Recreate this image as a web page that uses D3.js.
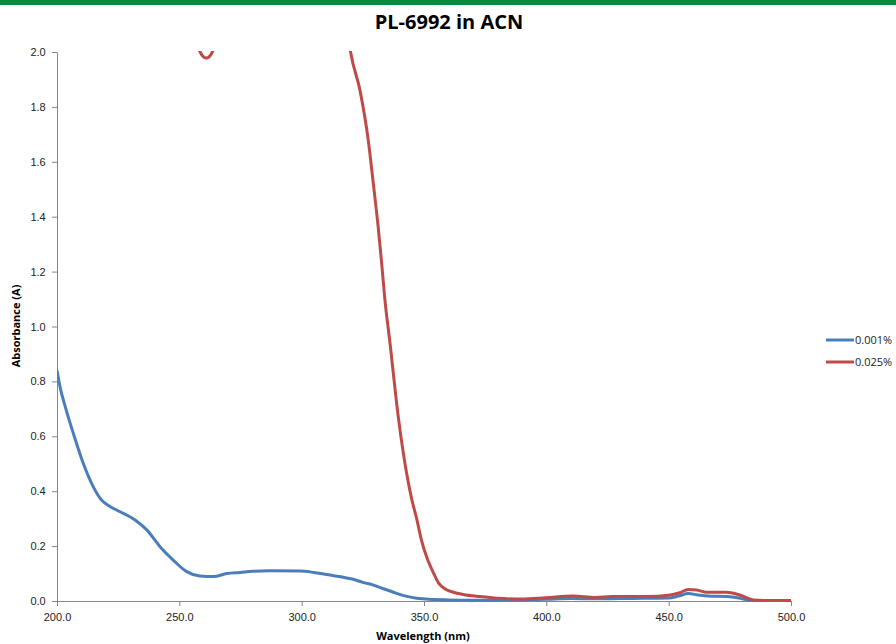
<!DOCTYPE html>
<html>
<head>
<meta charset="utf-8">
<script src="https://cdn.jsdelivr.net/npm/d3@7"></script>
<style>
  body { margin: 0; background: #fff; }
  svg { display: block; font-family: "Open Sans", "Liberation Sans", sans-serif; }
</style>
</head>
<body>
<svg id="chart" width="896" height="644"></svg>
<script>
// 0.001% sample
const blueWl = [200, 201.5, 203.3, 206.7, 210.8, 214.9, 218, 221, 225.8, 231.9, 236.7, 242.1, 247.5, 253, 258.4, 263.9, 269.4, 274.8, 280, 287, 299.3, 305, 311.6, 316, 321.1, 325, 329.3, 333, 337.5, 343, 347, 352, 360, 370, 380, 390, 400, 410, 420, 430, 440, 450, 454, 458, 462, 466, 474, 478, 481, 484, 490, 500];
const blueAbs = [0.84, 0.77, 0.71, 0.61, 0.50, 0.415, 0.37, 0.348, 0.325, 0.295, 0.259, 0.198, 0.149, 0.107, 0.091, 0.089, 0.10, 0.104, 0.108, 0.11, 0.109, 0.104, 0.095, 0.088, 0.079, 0.068, 0.058, 0.046, 0.032, 0.017, 0.01, 0.006, 0.004, 0.003, 0.003, 0.004, 0.006, 0.009, 0.008, 0.009, 0.01, 0.011, 0.018, 0.027, 0.022, 0.018, 0.016, 0.012, 0.006, 0.001, 0, 0];

// 0.025% sample (goes off scale above 2.0)
const redWl = [200, 250, 256, 258.5, 261, 263.5, 266, 280, 300, 315, 320, 323.8, 327.2, 329.3, 331.3, 332.7, 334, 336.1, 339.5, 342.9, 345, 347, 349, 351.5, 354, 356, 359, 362, 366, 373, 380, 390, 400, 411, 420, 427, 441, 450, 454.5, 458, 461.5, 465.5, 473.5, 479, 484.5, 490, 500];
const redAbs = [3.0, 2.6, 2.08, 2.0, 1.978, 2.0, 2.08, 2.7, 2.8, 2.4, 2.0, 1.862, 1.68, 1.52, 1.36, 1.23, 1.10, 0.94, 0.67, 0.465, 0.37, 0.30, 0.22, 0.15, 0.10, 0.065, 0.042, 0.032, 0.024, 0.016, 0.01, 0.007, 0.012, 0.018, 0.013, 0.016, 0.016, 0.021, 0.03, 0.042, 0.04, 0.032, 0.032, 0.022, 0.004, 0.002, 0.002];

const seriesNames = ["0.001%", "0.025%"];
const seriesColors = ["#4a7ebb", "#be4b48"];
const xTicks = [200, 250, 300, 350, 400, 450, 500];
const yTicks = [0, 0.2, 0.4, 0.6, 0.8, 1.0, 1.2, 1.4, 1.6, 1.8, 2.0];

const width = 896, height = 644;
const margin = {top: 52, right: 105, bottom: 43, left: 57};

const svg = d3.select("#chart");

// green strip along the top
svg.append("rect")
    .attr("x", 0).attr("y", 0)
    .attr("width", width).attr("height", 5)
    .attr("fill", "#0b8a3e");

let x = d3.scaleLinear()
    .domain([200, 500])
    .range([margin.left, width - margin.right]);

let y = d3.scaleLinear()
    .domain([0, 2])
    .range([height - margin.bottom, margin.top]);

svg.append("text")
    .attr("x", 449).attr("y", 29)
    .attr("text-anchor", "middle")
    .attr("font-size", 20).attr("font-weight", "bold")
    .attr("fill", "#000")
    .text("PL-6992 in ACN");

let xAxis = g => g
    .attr("transform", `translate(0,${height - margin.bottom})`)
    .call(d3.axisBottom(x).tickValues(xTicks).tickFormat(d3.format(".1f")).tickSize(5).tickSizeOuter(0))
    .call(g => g.selectAll("line, path").attr("stroke", "#868686"))
    .call(g => g.selectAll("text").attr("font-size", 11).attr("fill", "#222").attr("dy", "1.1em"));

let yAxis = g => g
    .attr("transform", `translate(${margin.left},0)`)
    .call(d3.axisLeft(y).tickValues(yTicks).tickFormat(d3.format(".1f")).tickSize(5).tickSizeOuter(0))
    .call(g => g.selectAll("line, path").attr("stroke", "#868686"))
    .call(g => g.selectAll("text").attr("font-size", 11).attr("fill", "#222").attr("dx", "-0.3em"));

svg.append("clipPath").attr("id", "plot-clip")
  .append("rect")
    .attr("x", margin.left).attr("y", margin.top - 1)
    .attr("width", width - margin.left - margin.right)
    .attr("height", height - margin.top - margin.bottom + 2);

svg.append("g").call(yAxis);
svg.append("g").call(xAxis);

const line = d3.line()
    .x(d => x(d[0]))
    .y(d => y(d[1]))
    .curve(d3.curveMonotoneX);

const series = [
    d3.zip(blueWl, blueAbs),
    d3.zip(redWl, redAbs)
];

svg.append("g")
    .attr("clip-path", "url(#plot-clip)")
  .selectAll("path").data(series).enter().append("path")
    .attr("d", line)
    .attr("fill", "none")
    .attr("stroke", (d, i) => seriesColors[i])
    .attr("stroke-width", 3)
    .attr("stroke-linejoin", "round");

// axis titles
svg.append("text")
    .attr("x", 423).attr("y", 640)
    .attr("text-anchor", "middle")
    .attr("font-size", 11).attr("font-weight", "bold")
    .text("Wavelength (nm)");

svg.append("text")
    .attr("transform", "translate(20,326) rotate(-90)")
    .attr("text-anchor", "middle")
    .attr("font-size", 11).attr("font-weight", "bold")
    .text("Absorbance (A)");

// legend
const legend = svg.append("g")
  .selectAll("g").data(seriesNames).enter().append("g")
    .attr("transform", (d, i) => `translate(826,${340 + i * 22})`);
legend.append("line")
    .attr("x1", 0).attr("x2", 28)
    .attr("stroke", (d, i) => seriesColors[i])
    .attr("stroke-width", 3);
legend.append("text")
    .attr("x", 29).attr("dy", "0.35em")
    .attr("font-size", 11).attr("fill", "#222")
    .text(d => d);
</script>
</body>
</html>
